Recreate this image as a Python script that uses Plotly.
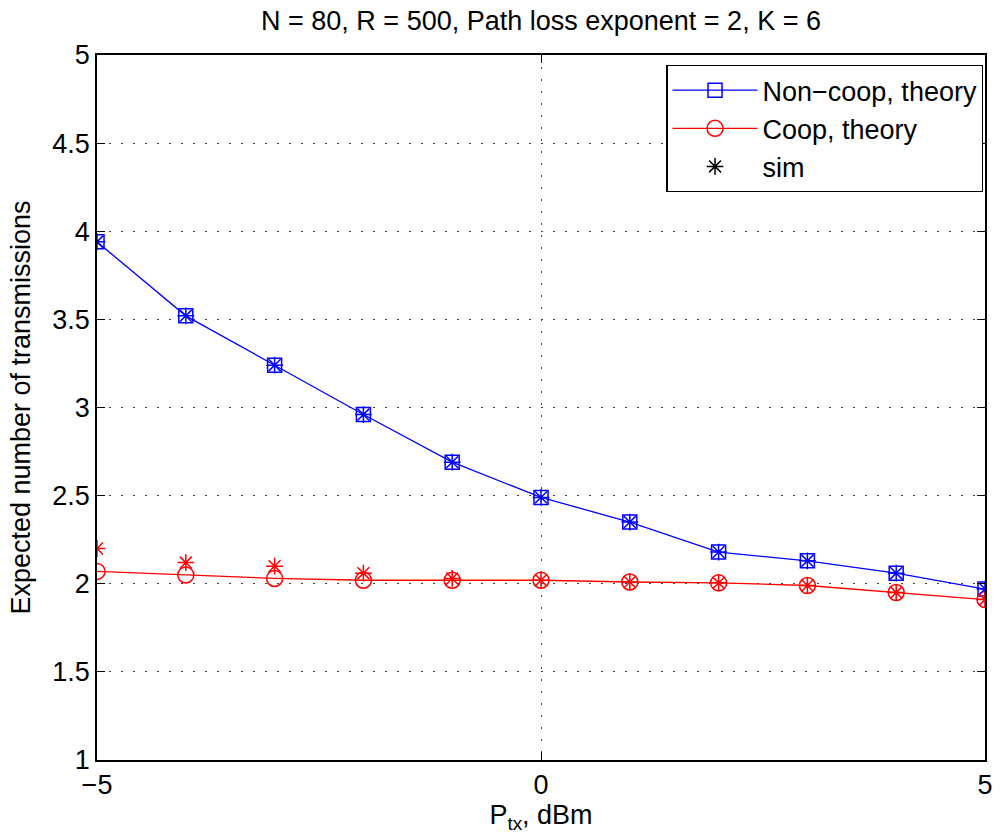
import plotly.graph_objects as go

ptx = [-5, -4, -3, -2, -1, 0, 1, 2, 3, 4, 5]
noncoop_theory = [3.94, 3.52, 3.24, 2.96, 2.69, 2.49, 2.35, 2.18, 2.13, 2.06, 1.97]
noncoop_sim = [3.94, 3.52, 3.24, 2.96, 2.69, 2.49, 2.35, 2.18, 2.13, 2.06, 1.97]
coop_theory = [2.07, 2.05, 2.03, 2.02, 2.02, 2.02, 2.01, 2.005, 1.99, 1.95, 1.91]
coop_sim = [2.20, 2.12, 2.10, 2.06, 2.03, 2.02, 2.01, 2.005, 1.99, 1.95, 1.91]
y_ticks = [1, 1.5, 2, 2.5, 3, 3.5, 4, 4.5, 5]
x_ticks = [-5, 0, 5]

BLUE = "#0000ff"
RED = "#ff0000"
FS = 27

fig = go.Figure()
fig.add_trace(go.Scatter(
    x=ptx, y=noncoop_theory, mode="lines+markers", name="Non\u2212coop, theory",
    line=dict(color=BLUE, width=1.3),
    marker=dict(symbol="square-open", size=14, color=BLUE, line=dict(width=1.5, color=BLUE)),
))
fig.add_trace(go.Scatter(
    x=ptx, y=coop_theory, mode="lines+markers", name="Coop, theory",
    line=dict(color=RED, width=1.3),
    marker=dict(symbol="circle-open", size=16, color=RED, line=dict(width=1.5, color=RED)),
))
fig.add_trace(go.Scatter(
    x=ptx, y=noncoop_sim, mode="markers", showlegend=False,
    marker=dict(symbol="asterisk-open", size=14, color=BLUE, line=dict(width=1.5, color=BLUE)),
))
fig.add_trace(go.Scatter(
    x=ptx, y=coop_sim, mode="markers", showlegend=False,
    marker=dict(symbol="asterisk-open", size=14, color=RED, line=dict(width=1.5, color=RED)),
))
fig.add_trace(go.Scatter(
    x=[None], y=[None], mode="markers", name="sim",
    marker=dict(symbol="asterisk-open", size=14, color="black", line=dict(width=1.5, color="black")),
))

axis_common = dict(
    showline=True, linecolor="black", linewidth=1.5, mirror="ticks",
    ticks="inside", ticklen=8, tickcolor="black", tickwidth=1,
    showgrid=True, gridcolor="#444444", griddash="1.5px,10.5px", gridwidth=1,
    zeroline=False, tickfont=dict(size=FS, color="black"),
)

fig.update_layout(
    width=1004, height=839,
    margin=dict(l=97, r=11, t=55, b=79),
    paper_bgcolor="white", plot_bgcolor="white",
    font=dict(family="Liberation Sans, Arial, sans-serif", color="black"),
    title=dict(text="N = 80, R = 500, Path loss exponent = 2, K = 6",
               x=0.5, xref="paper", xanchor="center", y=0.975, yanchor="middle",
               font=dict(size=FS, color="black")),
    xaxis=dict(range=[-5, 5], tickvals=x_ticks,
               title=dict(text="P<sub>tx</sub>, dBm", font=dict(size=FS), standoff=4),
               **axis_common),
    yaxis=dict(range=[1, 5], tickvals=y_ticks,
               title=dict(text="Expected number of transmissions", font=dict(size=FS), standoff=14),
               **axis_common),
    legend=dict(x=0.998, y=0.986, xanchor="right", yanchor="top",
                bgcolor="white", bordercolor="black", borderwidth=1.3,
                font=dict(size=FS, color="black"), itemwidth=85,
                tracegroupgap=0),
)

fig.write_html("out.html")
